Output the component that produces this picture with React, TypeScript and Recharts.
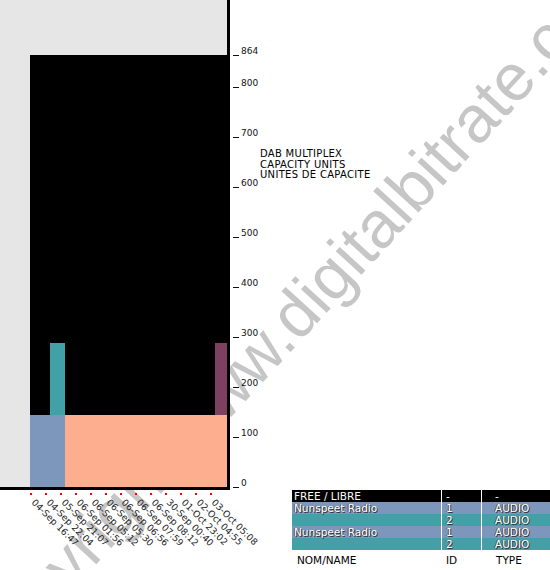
import { BarChart, Bar, XAxis, YAxis } from 'recharts'

// snapshot times (x categories)
const dates = [
  '04-Sep 16:47',
  '04-Sep 22:04',
  '05-Sep 21:07',
  '06-Sep 01:56',
  '06-Sep 05:12',
  '06-Sep 05:30',
  '06-Sep 06:56',
  '06-Sep 07:59',
  '06-Sep 08:12',
  '30-Sep 00:40',
  '01-Oct 23:02',
  '02-Oct 04:55',
  '03-Oct 05:08',
]

// capacity units per service at each snapshot
const radioOne = [144, 144, 0, 0, 0, 0, 0, 0, 0, 0, 0, 0, 0]
const radioTwo = [0, 144, 0, 0, 0, 0, 0, 0, 0, 0, 0, 0, 0]
const otherOne = [0, 0, 144, 144, 144, 144, 144, 144, 144, 144, 144, 144, 144]
const otherTwo = [0, 0, 0, 0, 0, 0, 0, 0, 0, 0, 0, 0, 144]

const yTicks = [0, 100, 200, 300, 400, 500, 600, 700, 800, 864]

const legendNames = ['FREE / LIBRE', 'Nunspeet Radio', '', 'Nunspeet Radio', '']
const legendIds = ['-', '1', '2', '1', '2']
const legendTypes = ['-', 'AUDIO', 'AUDIO', 'AUDIO', 'AUDIO']

const BLUE = '#7d97bc'
const TEAL = '#41a1a6'
const SALMON = '#fdae8f'
const PURPLE = '#7e4060'
const legendColors = ['#000000', BLUE, TEAL, BLUE, TEAL]

const data = dates.map((date, i) => ({
  date,
  radioOne: radioOne[i],
  radioTwo: radioTwo[i],
  otherOne: otherOne[i],
  otherTwo: otherTwo[i],
}))

const FONT = '"DejaVu Sans", Verdana, sans-serif'

function DateTick(props: any) {
  const { x, y, payload } = props
  return (
    <g>
      <rect x={x - 12.5} y={y + 6} width={2} height={2} fill="#ff0000" />
      <text
        x={x - 11.5}
        y={y + 16}
        transform={`rotate(45 ${x - 11.5} ${y + 16})`}
        fontFamily={FONT}
        fontSize={9.2}
        fill="#222"
      >
        {payload.value}
      </text>
    </g>
  )
}

function CuTick(props: any) {
  const { x, y, payload } = props
  return (
    <g>
      <line x1={x + 3} x2={x + 9} y1={y + 0.5} y2={y + 0.5} stroke="#111" strokeWidth={1} />
      <text x={x + 11} y={y - 1} fontFamily={FONT} fontSize={9} fill="#111">
        {payload.value}
      </text>
    </g>
  )
}

// first snapshot reaches to the left edge of the plot
function FirstWideBar(props: any) {
  const { x, y, width, height, fill, index } = props
  if (!height) return null
  const ext = index === 0 ? 5 : 0
  return <rect x={x - ext} y={y} width={width + ext} height={height} fill={fill} />
}

const cell = { boxSizing: 'border-box' as const, whiteSpace: 'nowrap' as const }

export default function App() {
  return (
    <div style={{ position: 'absolute', left: 0, top: 0, width: 550, height: 570, background: '#fff', overflow: 'hidden' }}>
      <svg width={550} height={570} style={{ position: 'absolute', left: 0, top: 0 }}>
        <g transform="rotate(-47.5 299 343)" fontFamily='"Liberation Sans", Arial, sans-serif' fontSize={66} fill="#c6c6c6">
          <text x={299} y={343} textAnchor="end">copyright www.</text>
          <text x={299} y={343}>digitalbitrate.com</text>
        </g>
      </svg>
      <div style={{ position: 'absolute', left: 0, top: 0, width: 227, height: 487, background: '#e6e6e6' }} />
      <div style={{ position: 'absolute', left: 30, top: 55, width: 197, height: 432, background: '#000' }} />
      <div style={{ position: 'absolute', left: 0, top: 0 }}>
        <BarChart
          width={550}
          height={570}
          data={data}
          margin={{ top: 55, right: 290, bottom: 23, left: 35 }}
          barCategoryGap={0}
          barGap={0}
        >
          <XAxis
            dataKey="date"
            interval={0}
            height={60}
            axisLine={false}
            tickLine={false}
            tickSize={0}
            tickMargin={0}
            tick={<DateTick />}
          />
          <YAxis
            orientation="right"
            width={30}
            domain={[0, 864]}
            ticks={yTicks}
            axisLine={false}
            tickLine={false}
            tickSize={0}
            tickMargin={0}
            tick={<CuTick />}
          />
          <Bar dataKey="radioOne" stackId="a" fill={BLUE} shape={<FirstWideBar />} isAnimationActive={false} />
          <Bar dataKey="otherOne" stackId="a" fill={SALMON} isAnimationActive={false} />
          <Bar dataKey="radioTwo" stackId="a" fill={TEAL} isAnimationActive={false} />
          <Bar dataKey="otherTwo" stackId="a" fill={PURPLE} isAnimationActive={false} />
        </BarChart>
      </div>
      <div style={{ position: 'absolute', left: 227, top: 0, width: 3, height: 490, background: '#000' }} />
      <div style={{ position: 'absolute', left: 0, top: 487, width: 230, height: 3, background: '#000' }} />
      <div
        style={{
          position: 'absolute',
          left: 260,
          top: 149,
          fontFamily: FONT,
          fontSize: 10,
          letterSpacing: 0.3,
          lineHeight: '10.5px',
          color: '#000',
          whiteSpace: 'nowrap',
        }}
      >
        <div>DAB MULTIPLEX</div>
        <div>CAPACITY UNITS</div>
        <div>UNITES DE CAPACITE</div>
      </div>
      <div style={{ position: 'absolute', left: 292, top: 490, width: 258, fontFamily: FONT, fontSize: 10.5 }}>
        {legendNames.map((name, i) => (
          <div
            key={i}
            style={{
              display: 'flex',
              height: 12,
              lineHeight: '12px',
              background: legendColors[i],
              color: '#fff',
              textShadow: i === 0 ? 'none' : '1px 1px 0 #333, -1px 0 0 #555',
            }}
          >
            <div style={{ ...cell, width: 150, paddingLeft: 2, borderRight: '1px solid #fff' }}>{name}</div>
            <div style={{ ...cell, width: 40, paddingLeft: 4, borderRight: '1px solid #fff' }}>{legendIds[i]}</div>
            <div style={{ ...cell, paddingLeft: 13 }}>{legendTypes[i]}</div>
          </div>
        ))}
        <div style={{ display: 'flex', height: 14, lineHeight: '16px', color: '#000', marginTop: 2 }}>
          <div style={{ ...cell, width: 150, paddingLeft: 5 }}>NOM/NAME</div>
          <div style={{ ...cell, width: 40, paddingLeft: 4 }}>ID</div>
          <div style={{ ...cell, paddingLeft: 14 }}>TYPE</div>
        </div>
      </div>
    </div>
  )
}
